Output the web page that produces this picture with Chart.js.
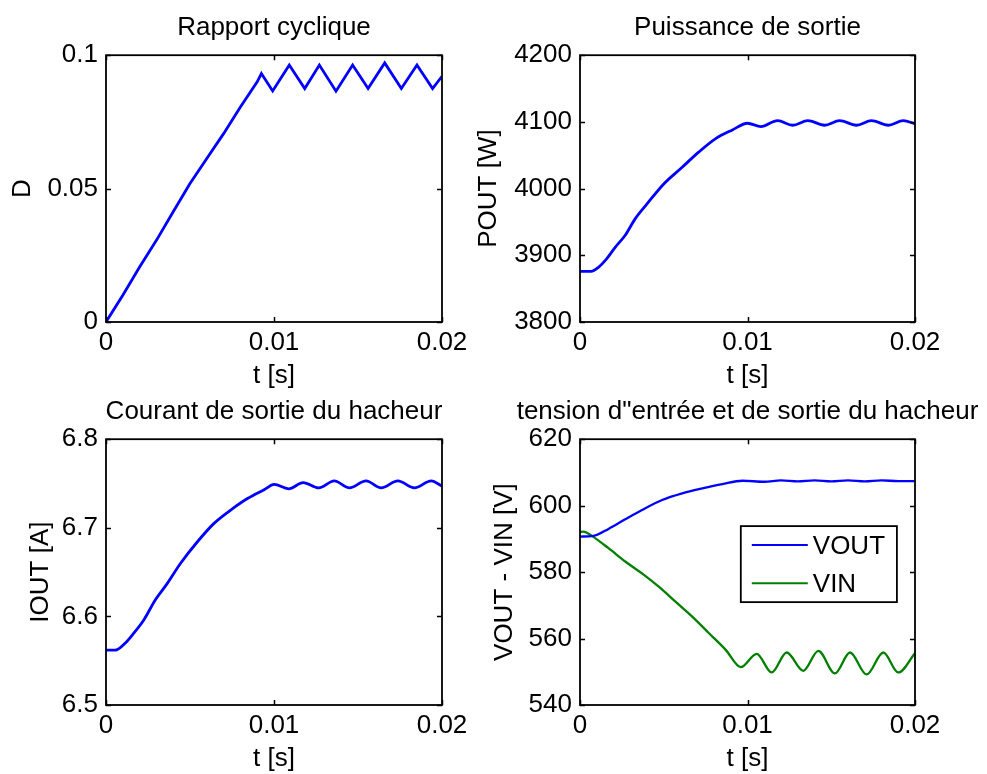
<!DOCTYPE html>
<html>
<head>
<meta charset="utf-8">
<script src="https://cdn.jsdelivr.net/npm/chart.js@4.4.1/dist/chart.umd.min.js"></script>
<style>
  html, body { margin: 0; padding: 0; background: #ffffff; }
  #wrap { position: relative; width: 987px; height: 774px; background: #ffffff; }
  canvas { position: absolute; left: 0; top: 0; }
</style>
</head>
<body>
<div id="wrap">
  <canvas id="c1" width="987" height="774"></canvas>
  <canvas id="c2" width="987" height="774"></canvas>
  <canvas id="c3" width="987" height="774"></canvas>
  <canvas id="c4" width="987" height="774"></canvas>
</div>
<script>
// ---------------- DATA ----------------
const xTickValues = [0, 0.01, 0.02];
const xTickLabels = ['0', '0.01', '0.02'];
const xAxisTitle = 't [s]';

// Rapport cyclique
const tD = [0, 0.001, 0.002, 0.003, 0.004, 0.005, 0.006, 0.007, 0.008, 0.009, 0.00925, 0.00992, 0.01091, 0.01183, 0.0127, 0.01369, 0.01468, 0.0156, 0.01659, 0.01758, 0.01851, 0.01944, 0.02];
const D  = [0, 0.0100, 0.0206, 0.0306, 0.0413, 0.0519, 0.0613, 0.0706, 0.0806, 0.0900, 0.0931, 0.0866, 0.0963, 0.0875, 0.0963, 0.0865, 0.0963, 0.0875, 0.0971, 0.0875, 0.0963, 0.0875, 0.0921];
const dTickLabels = ['0', '0.05', '0.1'];

// Puissance de sortie
const tP = [0, 0.00066, 0.0011, 0.0016, 0.0021, 0.0027, 0.0033, 0.004, 0.005, 0.0061, 0.0071, 0.0081, 0.0091, 0.0100, 0.0108, 0.0118, 0.0127, 0.0136, 0.0146, 0.0155, 0.0165, 0.0174, 0.0184, 0.0193, 0.02];
const POUT = [3876, 3876, 3882, 3895, 3912, 3930, 3955, 3977, 4007, 4032, 4055, 4075, 4088, 4098, 4093, 4102, 4095, 4102, 4095, 4102, 4095, 4102, 4095, 4102, 4097];
const pTickLabels = ['3800', '3900', '4000', '4100', '4200'];

// Courant de sortie du hacheur
const tI = [0, 0.00056, 0.00115, 0.00165, 0.00225, 0.00295, 0.00364, 0.00444, 0.00543, 0.00643, 0.00742, 0.00842, 0.00941, 0.01001, 0.01087, 0.01174, 0.01266, 0.01359, 0.01449, 0.01548, 0.01638, 0.01737, 0.01836, 0.01936, 0.02];
const IOUT = [6.562, 6.562, 6.570, 6.581, 6.596, 6.619, 6.637, 6.660, 6.684, 6.705, 6.720, 6.733, 6.743, 6.749, 6.744, 6.751, 6.745, 6.753, 6.745, 6.753, 6.745, 6.753, 6.745, 6.753, 6.747];
const iTickLabels = ['6.5', '6.6', '6.7', '6.8'];

// Tension d'entrée et de sortie
const tVout = [0, 0.0008, 0.0017, 0.0027, 0.0037, 0.0049, 0.0061, 0.0073, 0.0085, 0.0097, 0.011, 0.012, 0.013, 0.014, 0.015, 0.016, 0.017, 0.018, 0.019, 0.02];
const VOUT  = [590.7, 590.9, 593.0, 595.9, 598.7, 601.7, 603.7, 605.2, 606.5, 607.5, 607.2, 607.6, 607.3, 607.6, 607.3, 607.6, 607.3, 607.6, 607.4, 607.4];
const tVin = [0, 0.0002, 0.0007, 0.0017, 0.0027, 0.0037, 0.0047, 0.0057, 0.0067, 0.0077, 0.0087, 0.0096, 0.01055, 0.01144, 0.01234, 0.01333, 0.01423, 0.01522, 0.01612, 0.01711, 0.01811, 0.0190, 0.02];
const VIN  = [592.0, 592.2, 590.9, 587.2, 583.2, 579.6, 575.6, 571.1, 566.6, 561.6, 556.6, 551.4, 555.4, 549.8, 555.8, 550.3, 556.3, 549.5, 555.8, 549.2, 555.8, 549.8, 555.6];
const vTickLabels = ['540', '560', '580', '600', '620'];

// ---------------- STYLE ----------------
const FONT = "'Liberation Sans', Arial, Helvetica, sans-serif";
const FS = 26;
Chart.defaults.font.family = FONT;
Chart.defaults.font.size = FS;
Chart.defaults.color = '#000000';

function pts(t, v) { return t.map((x, i) => ({ x: x, y: v[i] })); }

// Let the (centred) title overflow the plot width, as MATLAB does
const titleWidenPlugin = {
  id: 'titleWiden',
  afterLayout(chart) {
    const tb = chart.titleBlock;
    if (tb) { tb.left -= 120; tb.right += 120; }
  }
};

// MATLAB-style box and inward ticks
const boxPlugin = {
  id: 'matlabBox',
  afterDraw(chart) {
    const { ctx, chartArea: a, scales } = chart;
    ctx.save();
    ctx.strokeStyle = '#000000';
    ctx.lineWidth = 1.5;
    const L = 5;
    ctx.beginPath();
    scales.x.ticks.forEach(tk => {
      const px = Math.round(scales.x.getPixelForValue(tk.value)) + 0.5;
      ctx.moveTo(px, a.bottom); ctx.lineTo(px, a.bottom - L);
      ctx.moveTo(px, a.top); ctx.lineTo(px, a.top + L);
    });
    scales.y.ticks.forEach(tk => {
      const py = Math.round(scales.y.getPixelForValue(tk.value)) + 0.5;
      ctx.moveTo(a.left, py); ctx.lineTo(a.left + L, py);
      ctx.moveTo(a.right, py); ctx.lineTo(a.right - L, py);
    });
    ctx.stroke();
    ctx.lineWidth = 1.8;
    ctx.strokeRect(a.left, a.top, a.right - a.left, a.bottom - a.top);
    ctx.restore();
  }
};

// Boxed legend inside the axes (MATLAB style)
const boxLegendPlugin = {
  id: 'boxLegend',
  afterDraw(chart, args, opts) {
    if (!opts || !opts.display) return;
    const { ctx, chartArea: a } = chart;
    const w = a.right - a.left, h = a.bottom - a.top;
    const x0 = a.left + opts.x0 * w, x1 = a.left + opts.x1 * w;
    const y0 = a.top + opts.y0 * h, y1 = a.top + opts.y1 * h;
    ctx.save();
    ctx.fillStyle = '#ffffff';
    ctx.fillRect(x0, y0, x1 - x0, y1 - y0);
    ctx.strokeStyle = '#000000';
    ctx.lineWidth = 1.8;
    ctx.strokeRect(x0, y0, x1 - x0, y1 - y0);
    const ds = chart.data.datasets;
    const rowH = (y1 - y0) / ds.length;
    ctx.font = FS + 'px ' + FONT;
    ctx.textBaseline = 'middle';
    ctx.textAlign = 'left';
    ds.forEach((d, i) => {
      const cy = y0 + rowH * (i + 0.5);
      ctx.strokeStyle = d.borderColor;
      ctx.lineWidth = 2;
      ctx.beginPath();
      ctx.moveTo(x0 + 11, cy); ctx.lineTo(x0 + 67, cy);
      ctx.stroke();
      ctx.fillStyle = '#000000';
      ctx.fillText(d.label, x0 + 72, cy + 2);
    });
    ctx.restore();
  }
};

function makeChart(id, cfg) {
  const yLabels = cfg.yTickLabels;
  return new Chart(document.getElementById(id), {
    type: 'line',
    data: { datasets: cfg.datasets },
    options: {
      responsive: false,
      animation: false,
      devicePixelRatio: 1,
      layout: { padding: cfg.padding },
      elements: { point: { radius: 0 } },
      plugins: {
        legend: { display: false },
        tooltip: { enabled: false },
        title: {
          display: true,
          text: cfg.title,
          fullSize: false,
          color: '#000000',
          font: { size: FS, weight: 'normal' },
          padding: { top: 12, bottom: 12 }
        },
        boxLegend: cfg.legend || { display: false }
      },
      scales: {
        x: {
          type: 'linear',
          min: 0, max: 0.02,
          grid: { display: false, drawTicks: false },
          border: { display: false },
          afterBuildTicks: (s) => { s.ticks = xTickValues.map(v => ({ value: v })); },
          ticks: {
            padding: 5, maxRotation: 0, minRotation: 0, autoSkip: false,
            color: '#000000',
            callback: (v, i) => xTickLabels[i]
          },
          title: { display: true, text: xAxisTitle, color: '#000000', padding: { top: 0, bottom: -1 }, font: { size: FS } },
          afterFit: (s) => { s.height = 68; }
        },
        y: {
          type: 'linear',
          min: cfg.yMin, max: cfg.yMax,
          grid: { display: false, drawTicks: false },
          border: { display: false },
          afterBuildTicks: (s) => { s.ticks = cfg.yTickValues.map(v => ({ value: v })); },
          ticks: {
            padding: 8, autoSkip: false, color: '#000000',
            callback: (v, i) => yLabels[i]
          },
          title: { display: true, text: cfg.yTitle, color: '#000000', padding: 0, font: { size: FS } },
          afterFit: (s) => { s.width = cfg.yWidth; }
        }
      }
    },
    plugins: [titleWidenPlugin, boxPlugin, boxLegendPlugin]
  });
}

makeChart('c1', {
  title: 'Rapport cyclique',
  yTitle: 'D',
  yMin: 0, yMax: 0.1,
  yTickValues: [0, 0.05, 0.1],
  yTickLabels: dTickLabels,
  yWidth: 99,
  padding: { left: 7, top: 0, right: 545, bottom: 384 },
  datasets: [{ label: 'D', data: pts(tD, D), borderColor: '#0000ff', borderWidth: 2.8, tension: 0, fill: false }]
});

makeChart('c2', {
  title: 'Puissance de sortie',
  yTitle: 'POUT [W]',
  yMin: 3800, yMax: 4200,
  yTickValues: [3800, 3900, 4000, 4100, 4200],
  yTickLabels: pTickLabels,
  yWidth: 107,
  padding: { left: 473, top: 0, right: 72, bottom: 384 },
  datasets: [{ label: 'POUT', data: pts(tP, POUT), borderColor: '#0000ff', borderWidth: 2.8, cubicInterpolationMode: 'monotone', fill: false }]
});

makeChart('c3', {
  title: 'Courant de sortie du hacheur',
  yTitle: 'IOUT [A]',
  yMin: 6.5, yMax: 6.8,
  yTickValues: [6.5, 6.6, 6.7, 6.8],
  yTickLabels: iTickLabels,
  yWidth: 81,
  padding: { left: 25, top: 384, right: 545, bottom: 1 },
  datasets: [{ label: 'IOUT', data: pts(tI, IOUT), borderColor: '#0000ff', borderWidth: 2.8, cubicInterpolationMode: 'monotone', fill: false }]
});

makeChart('c4', {
  title: 'tension d"entrée et de sortie du hacheur',
  yTitle: 'VOUT - VIN [V]',
  yMin: 540, yMax: 620,
  yTickValues: [540, 560, 580, 600, 620],
  yTickLabels: vTickLabels,
  yWidth: 91,
  padding: { left: 489, top: 384, right: 72, bottom: 1 },
  legend: { display: true, x0: 0.48, x1: 0.946, y0: 0.327, y1: 0.613 },
  datasets: [
    { label: 'VOUT', data: pts(tVout, VOUT), borderColor: '#0000ff', borderWidth: 2.3, cubicInterpolationMode: 'monotone', fill: false },
    { label: 'VIN', data: pts(tVin, VIN), borderColor: '#008000', borderWidth: 2.3, cubicInterpolationMode: 'monotone', fill: false }
  ]
});
</script>
</body>
</html>
